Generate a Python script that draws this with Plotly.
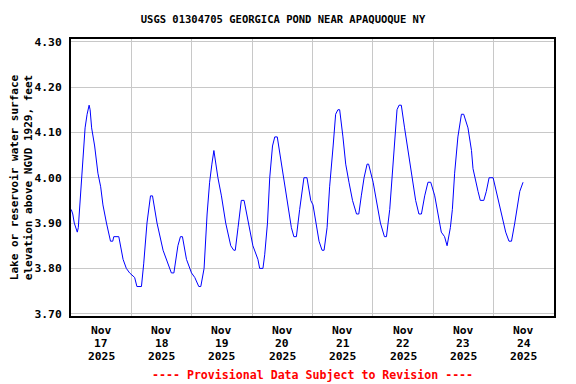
import pandas as pd
import plotly.graph_objects as go

title_text = "USGS 01304705 GEORGICA POND NEAR APAQUOQUE NY"
y_title = "Lake or reservoir water surface<br>elevation above NGVD 1929, feet"
footer_text = "---- Provisional Data Subject to Revision ----"

start = pd.Timestamp("2025-11-17 00:00")
# hours since start of Nov 17 2025
hours = [0.1, 0.7, 1.3, 1.9, 2.5, 2.9, 3.5, 4.1, 4.8, 5.6, 6.4, 7.2, 7.6, 8.2, 9.4,
         10.7, 11.8, 12.7, 14.1, 15.7, 16.6, 17.0, 19.0, 19.8, 20.7, 22.0, 23.3,
         25.3, 26.2, 28.0, 28.9, 30.2, 31.6, 32.4, 34.2, 36.6, 39.2, 39.9, 40.9,
         42.5, 43.5, 44.3, 45.9, 47.9, 49.2, 50.8, 51.6, 52.9, 54.1, 55.1, 56.0,
         56.8, 58.4, 59.8, 61.5, 63.5, 64.7, 65.3, 66.4, 67.7, 68.8, 70.4, 72.3,
         74.3, 75.0, 76.3, 77.0, 78.1, 79.0, 80.1, 81.0, 82.0, 83.6, 85.0, 86.3,
         87.6, 88.6, 89.6, 90.9, 92.0, 92.6, 93.8, 95.3, 96.2, 97.6, 98.6, 99.8,
         100.6, 101.8, 102.8, 104.2, 105.2, 106.1, 106.8, 108.1, 109.2, 110.5,
         111.9, 113.5, 114.4, 115.4, 116.5, 117.7, 118.3, 120.1, 121.4, 123.0,
         124.6, 125.4, 126.7, 127.8, 128.7, 129.6, 130.4, 131.3, 132.6, 134.0,
         134.9, 136.0, 137.0, 138.3, 139.3, 140.6, 141.9, 143.0, 144.6, 145.9,
         147.2, 148.5, 149.5, 150.8, 151.6, 152.5, 153.8, 155.2, 156.1, 157.8,
         159.2, 159.8, 160.9, 161.8, 162.7, 164.1, 165.1, 166.2, 167.8, 169.1,
         170.4, 171.7, 172.8, 174.1, 175.1, 176.4, 177.5, 178.4, 179.7]
elev = [3.93, 3.92, 3.90, 3.89, 3.88, 3.89, 3.94, 4.00, 4.05, 4.11, 4.14, 4.16, 4.15, 4.11, 4.07,
        4.01, 3.98, 3.94, 3.90, 3.86, 3.86, 3.87, 3.87, 3.85, 3.82, 3.80, 3.79,
        3.78, 3.76, 3.76, 3.81, 3.90, 3.96, 3.96, 3.90, 3.84, 3.80, 3.79, 3.79,
        3.85, 3.87, 3.87, 3.82, 3.79, 3.78, 3.76, 3.76, 3.80, 3.92, 3.99, 4.03,
        4.06, 4.00, 3.96, 3.90, 3.85, 3.84, 3.84, 3.89, 3.95, 3.95, 3.90, 3.85,
        3.82, 3.80, 3.80, 3.83, 3.90, 4.00, 4.07, 4.09, 4.09, 4.03, 3.98, 3.93,
        3.89, 3.87, 3.87, 3.93, 3.97, 4.00, 4.00, 3.95, 3.94, 3.89, 3.86, 3.84,
        3.84, 3.89, 3.98, 4.07, 4.14, 4.15, 4.15, 4.09, 4.03, 3.99,
        3.95, 3.92, 3.92, 3.96, 4.00, 4.03, 4.03, 3.99, 3.95, 3.90,
        3.87, 3.87, 3.93, 4.01, 4.09, 4.15, 4.16, 4.16, 4.11, 4.06,
        4.03, 3.99, 3.95, 3.92, 3.92, 3.96, 3.99, 3.99, 3.96, 3.92,
        3.88, 3.87, 3.85, 3.89, 3.93, 4.01, 4.09, 4.14, 4.14, 4.11,
        4.06, 4.02, 3.99, 3.97, 3.95, 3.95, 3.97, 4.00, 4.00, 3.97,
        3.94, 3.91, 3.88, 3.86, 3.86, 3.90, 3.94, 3.97, 3.99]

tick_months = ["Nov", "Nov", "Nov", "Nov", "Nov", "Nov", "Nov", "Nov"]
tick_days = ["17", "18", "19", "20", "21", "22", "23", "24"]
tick_years = ["2025", "2025", "2025", "2025", "2025", "2025", "2025", "2025"]
y_ticks = [3.70, 3.80, 3.90, 4.00, 4.10, 4.20, 4.30]
y_ticktext = ["3.70", "3.80", "3.90", "4.00", "4.10", "4.20", "4.30"]

times = start + pd.to_timedelta(hours, unit="h")
day_noons = [start + pd.Timedelta(days=i, hours=12) for i in range(len(tick_days))]

mono = "DejaVu Sans Mono"
W, H = 568, 376          # page body has an 8px margin in the 576x384 window
ML, MR, MT, MB = 63, 22, 31, 68
plot_h = H - MT - MB

def paper_y(py):
    # figure pixel row -> paper coordinate
    return (H - MB - py) / plot_h

fig = go.Figure()
fig.add_trace(go.Scatter(x=times, y=elev, mode="lines",
                         line=dict(color="#0000ff", width=1), hoverinfo="skip"))

fig.update_layout(
    width=W, height=H,
    margin=dict(l=ML, r=MR, t=MT, b=MB, autoexpand=False),
    paper_bgcolor="white", plot_bgcolor="white",
    showlegend=False,
    title=dict(text="<b>" + title_text + "</b>", x=275 / W, xref="container",
               xanchor="center", y=1 - 11.5 / H, yref="container", yanchor="middle",
               font=dict(family=mono, size=10.5, color="black")),
    font=dict(family=mono, color="black"),
)

fig.update_xaxes(
    range=[start, start + pd.Timedelta(days=8)],
    tickvals=day_noons, ticktext=["" for _ in tick_days],
    ticks="", showgrid=False,
    minor=dict(tick0=start, dtick=86400000, showgrid=True, gridcolor="#c8c8c8", gridwidth=1, ticks=""),
    showline=True, linecolor="black", linewidth=2, mirror=True, zeroline=False,
)

fig.update_yaxes(
    range=[3.695, 4.306],
    tickvals=y_ticks, ticktext=["<b>" + t + "</b>" for t in y_ticktext],
    ticks="", showgrid=True, gridcolor="#c8c8c8", gridwidth=1, ticklabelstandoff=5,
    tickfont=dict(family=mono, size=11.3, color="black"),
    showline=True, linecolor="black", linewidth=2, mirror=True, zeroline=False,
    title=dict(text="<b>" + y_title + "</b>", font=dict(family=mono, size=11, color="black"), standoff=6),
)

for rows, yc in ((tick_months, 322), (tick_days, 335), (tick_years, 348)):
    for xv, txt in zip(day_noons, rows):
        fig.add_annotation(text="<b>" + txt + "</b>", xref="x", yref="paper",
                           x=xv, y=paper_y(yc), xanchor="center", yanchor="middle",
                           showarrow=False, font=dict(family=mono, size=11.3, color="black"))

fig.add_annotation(text="<b>" + footer_text + "</b>", xref="paper", yref="paper",
                   x=0.5, y=paper_y(367), xanchor="center", yanchor="middle",
                   showarrow=False, font=dict(family=mono, size=11.6, color="#ff0000"))

fig.write_html("out.html")
